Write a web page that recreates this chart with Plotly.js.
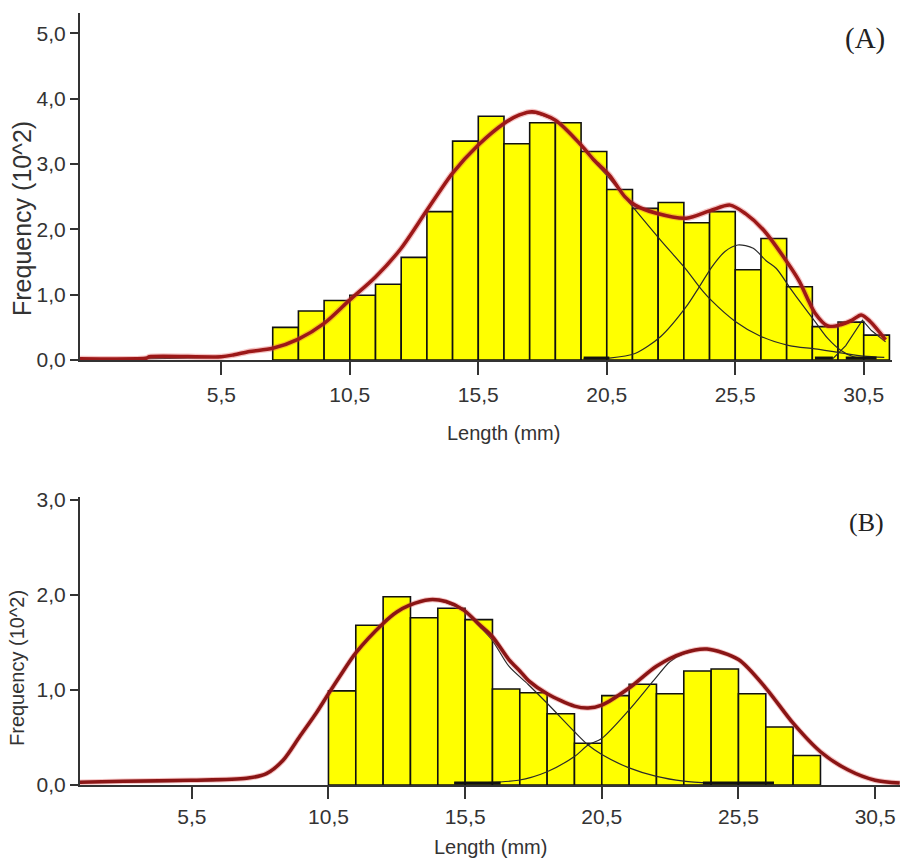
<!DOCTYPE html>
<html>
<head>
<meta charset="utf-8">
<script src="https://cdn.plot.ly/plotly-3.0.1.min.js"></script>
<style>html,body{margin:0;padding:0;background:#fff;}#chart{width:902px;height:859px;}</style>
</head>
<body>
<div id="chart"></div>
<script>
// ---------- Panel A data ----------
const binCentersA = [8,9,10,11,12,13,14,15,16,17,18,19,20,21,22,23,24,25,26,27,28,29,30,31];
const freqA = [0.50,0.75,0.91,0.99,1.16,1.57,2.27,3.35,3.73,3.31,3.63,3.63,3.19,2.61,2.32,2.41,2.10,2.27,1.38,1.86,1.12,0.51,0.58,0.38];

const fitA_x = [0,2.6,2.7,5.5,6.0,6.6,7.5,8.5,9.5,10.5,11.5,12.5,13.5,14.5,15.5,16.5,17.1,17.6,18.5,19.5,20.0,20.6,21.2,21.6,22.4,23.6,24.55,25.3,25.9,26.6,27.6,28.0,28.3,28.6,29.1,29.6,30.05,30.4,30.75,31.35];
const fitA_y = [0.02,0.03,0.05,0.05,0.08,0.13,0.18,0.32,0.56,0.92,1.27,1.71,2.29,2.86,3.29,3.62,3.75,3.80,3.67,3.29,3.06,2.83,2.50,2.37,2.25,2.17,2.29,2.37,2.24,1.99,1.45,1.20,0.95,0.72,0.52,0.54,0.61,0.69,0.59,0.31];

const comp1A_x = [0,5.5,6.6,7.5,8.5,9.5,10.5,11.5,12.5,13.5,14.5,15.5,16.5,17.5,18.5,19.5,20.0,20.6,21.6,22.6,23.6,24.1,24.6,25.5,26.5,27.6,28.6,29.6,30.5,31.3];
const comp1A_y = [0.02,0.05,0.13,0.18,0.32,0.56,0.92,1.27,1.71,2.29,2.86,3.29,3.62,3.78,3.66,3.28,3.04,2.78,2.30,1.83,1.38,1.12,0.90,0.59,0.36,0.22,0.17,0.11,0.06,0.04];

const comp2A_x = [19.6,20.6,21.6,22.6,23.6,24.1,24.6,25.1,25.6,26.2,26.7,27.1,27.6,28.1,28.6,29.1,29.6,30.1,30.6];
const comp2A_y = [0.02,0.03,0.10,0.36,0.82,1.12,1.43,1.66,1.76,1.71,1.52,1.40,1.12,0.85,0.59,0.33,0.15,0.05,0.02];

const comp3A_x = [29.3,29.8,30.45,30.8,31.35];
const comp3A_y = [0.02,0.22,0.61,0.45,0.28];

const tailA_x = [19.6,20.6,null,28.6,29.3,null,29.8,31.0];
const tailA_y = [0.03,0.03,null,0.03,0.03,null,0.03,0.03];

// ---------- Panel B data ----------
const binCentersB = [11,12,13,14,15,16,17,18,19,20,21,22,23,24,25,26,27,28];
const freqB = [0.99,1.68,1.98,1.76,1.86,1.74,1.01,0.97,0.75,0.44,0.94,1.06,0.96,1.20,1.22,0.96,0.61,0.31];

const fitB_x = [1.41,3.0,5.5,7.5,8.23,8.84,9.45,10.06,10.5,10.93,11.5,12.5,13.0,13.45,14.2,14.8,15.45,16.05,16.5,17.1,17.5,17.85,18.5,19.5,20.0,20.5,21.5,22.5,23.5,24.35,25.5,26.5,27.5,28.5,29.5,30.5,31.4];
const fitB_y = [0.03,0.04,0.05,0.07,0.12,0.26,0.51,0.76,0.96,1.15,1.39,1.70,1.82,1.89,1.95,1.93,1.84,1.68,1.56,1.32,1.20,1.09,0.96,0.83,0.81,0.84,1.02,1.25,1.39,1.43,1.32,1.02,0.65,0.35,0.16,0.05,0.02];

const comp1B_x = [1.41,5.5,7.5,8.23,8.84,9.45,10.06,10.5,10.93,11.5,12.5,13.0,13.45,14.2,14.8,15.45,16.05,16.5,17.1,17.8,18.5,19.5,20.0,20.5,21.5,22.5,23.5,24.5];
const comp1B_y = [0.03,0.04,0.07,0.12,0.26,0.51,0.76,0.96,1.15,1.39,1.70,1.82,1.89,1.95,1.92,1.83,1.66,1.52,1.25,1.06,0.86,0.56,0.42,0.32,0.18,0.09,0.04,0.02];

const comp2B_x = [15.1,17.45,18.5,19.5,20.0,20.5,21.5,22.4,23.0,23.5,24.35,25.5,26.5,27.5,28.5,29.5,30.5,31.2];
const comp2B_y = [0.02,0.05,0.14,0.30,0.42,0.49,0.79,1.10,1.30,1.38,1.43,1.32,1.02,0.65,0.35,0.16,0.05,0.02];

const tailB_x = [15.1,16.8,null,24.2,26.8];
const tailB_y = [0.02,0.02,null,0.02,0.02];

// ---------- Tick labels ----------
const xTickVals = [5.5,10.5,15.5,20.5,25.5,30.5];
const xTickText = ['5,5','10,5','15,5','20,5','25,5','30,5'];
const yTickValsA = [0,1,2,3,4,5];
const yTickTextA = ['0,0','1,0','2,0','3,0','4,0','5,0'];
const yTickValsB = [0,1,2,3];
const yTickTextB = ['0,0','1,0','2,0','3,0'];

const W = 902, H = 859;
const px = v => v / W;
const py = v => (H - v) / H;

const sans = 'Liberation Sans, Arial, sans-serif';
const red = '#9c1818';
const halo = 'rgba(225,80,80,0.35)';
const compCol = '#2a2a2a';

function line(x, y, xa, ya, color, width) {
  return {type:'scatter', mode:'lines', x:x, y:y, xaxis:xa, yaxis:ya,
          line:{color:color, width:width, shape:'spline', smoothing:0.8}, hoverinfo:'skip'};
}

const traces = [
  {type:'bar', x:binCentersA, y:freqA, width:1, xaxis:'x', yaxis:'y',
   marker:{color:'#ffff00', line:{color:'#111', width:1.6}}},
  line(comp1A_x, comp1A_y, 'x', 'y', compCol, 1.2),
  line(comp2A_x, comp2A_y, 'x', 'y', compCol, 1.2),
  {type:'scatter', mode:'lines', x:comp3A_x, y:comp3A_y, xaxis:'x', yaxis:'y', line:{color:compCol, width:1.2}},
  {type:'scatter', mode:'lines', x:tailA_x, y:tailA_y, xaxis:'x', yaxis:'y', line:{color:'#111', width:3}, connectgaps:false},
  line(fitA_x, fitA_y, 'x', 'y', halo, 6),
  line(fitA_x, fitA_y, 'x', 'y', red, 3.5),

  {type:'bar', x:binCentersB, y:freqB, width:1, xaxis:'x2', yaxis:'y2',
   marker:{color:'#ffff00', line:{color:'#111', width:1.6}}},
  line(comp1B_x, comp1B_y, 'x2', 'y2', compCol, 1.2),
  line(comp2B_x, comp2B_y, 'x2', 'y2', compCol, 1.2),
  {type:'scatter', mode:'lines', x:tailB_x, y:tailB_y, xaxis:'x2', yaxis:'y2', line:{color:'#111', width:3}, connectgaps:false},
  line(fitB_x, fitB_y, 'x2', 'y2', halo, 5.5),
  line(fitB_x, fitB_y, 'x2', 'y2', '#8a1515', 3.5)
];

const axBase = {showgrid:false, zeroline:false, showline:true, linecolor:'#333', linewidth:2,
  ticks:'outside', tickwidth:2, tickcolor:'#333', tickfont:{family:sans, size:21, color:'#333'}, fixedrange:true};

const layout = {
  width:W, height:H, margin:{l:0, r:0, t:0, b:0},
  paper_bgcolor:'#fff', plot_bgcolor:'rgba(0,0,0,0)', showlegend:false, bargap:0,
  xaxis: Object.assign({}, axBase, {domain:[px(80), px(892)], range:[0, 31.6], anchor:'y',
    tickvals:xTickVals, ticktext:xTickText, ticklen:13, ticklabelstandoff:2}),
  yaxis: Object.assign({}, axBase, {domain:[py(360), py(13)], range:[0, 5.31], anchor:'x',
    tickvals:yTickValsA, ticktext:yTickTextA, ticklen:8}),
  xaxis2: Object.assign({}, axBase, {domain:[px(80), px(900)], range:[1.41, 31.41], anchor:'y2',
    tickvals:xTickVals, ticktext:xTickText, ticklen:12}),
  yaxis2: Object.assign({}, axBase, {domain:[py(785), py(497)], range:[0, 3.03], anchor:'x2',
    tickvals:yTickValsB, ticktext:yTickTextB, ticklen:8}),
  annotations: [
    {text:'Frequency (10^2)', xref:'paper', yref:'paper', x:px(22), y:py(219), textangle:-90,
     showarrow:false, xanchor:'center', yanchor:'middle', font:{family:sans, size:25, color:'#333'}},
    {text:'Frequency (10^2)', xref:'paper', yref:'paper', x:px(17), y:py(668), textangle:-90,
     showarrow:false, xanchor:'center', yanchor:'middle', font:{family:sans, size:20, color:'#333'}},
    {text:'Length (mm)', xref:'paper', yref:'paper', x:px(503), y:py(433),
     showarrow:false, xanchor:'center', yanchor:'middle', font:{family:sans, size:20, color:'#333'}},
    {text:'Length (mm)', xref:'paper', yref:'paper', x:px(490), y:py(847),
     showarrow:false, xanchor:'center', yanchor:'middle', font:{family:sans, size:20, color:'#333'}},
    {text:'(A)', xref:'paper', yref:'paper', x:px(865), y:py(38),
     showarrow:false, xanchor:'center', yanchor:'middle', font:{family:'Liberation Serif, Times New Roman, serif', size:29, color:'#222'}},
    {text:'(B)', xref:'paper', yref:'paper', x:px(866), y:py(522),
     showarrow:false, xanchor:'center', yanchor:'middle', font:{family:'Liberation Serif, Times New Roman, serif', size:26, color:'#222'}}
  ]
};

Plotly.newPlot('chart', traces, layout, {displayModeBar:false, staticPlot:true});
</script>
</body>
</html>
